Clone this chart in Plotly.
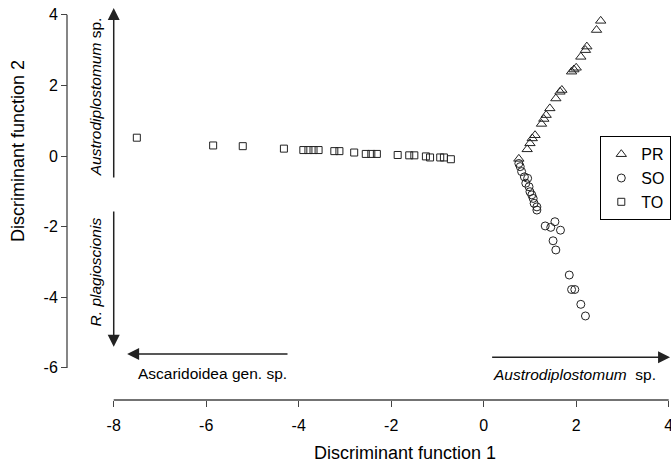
import plotly.graph_objects as go

# ---- data ----
pr_x = [2.53, 2.44, 2.23, 2.20, 2.10, 2.00, 1.95, 1.90, 1.69, 1.65, 1.56, 1.43, 1.35, 1.30, 1.25, 1.11, 1.05, 1.00, 0.94, 0.76]
pr_y = [3.83, 3.57, 3.10, 3.00, 2.81, 2.50, 2.45, 2.39, 1.87, 1.82, 1.63, 1.35, 1.16, 1.05, 0.91, 0.59, 0.50, 0.36, 0.19, -0.08]

so_x = [0.76, 0.79, 0.82, 0.88, 0.95, 0.91, 0.98, 1.00, 1.04, 1.07, 1.09, 1.15, 1.15, 1.33, 1.45, 1.54, 1.66, 1.50, 1.56, 1.85, 1.90, 1.97, 2.10, 2.20]
so_y = [-0.21, -0.30, -0.44, -0.59, -0.63, -0.77, -0.87, -1.01, -1.10, -1.20, -1.34, -1.44, -1.53, -1.98, -2.02, -1.86, -2.10, -2.40, -2.66, -3.37, -3.78, -3.78, -4.20, -4.53]

to_x = [-7.50, -5.85, -5.21, -4.32, -3.90, -3.79, -3.68, -3.57, -3.23, -3.12, -2.80, -2.55, -2.43, -2.31, -1.86, -1.61, -1.50, -1.25, -1.16, -0.94, -0.86, -0.71]
to_y = [0.52, 0.30, 0.28, 0.21, 0.17, 0.17, 0.17, 0.17, 0.14, 0.14, 0.10, 0.06, 0.06, 0.06, 0.03, 0.02, 0.02, -0.01, -0.04, -0.04, -0.04, -0.09]

x_ticks = [-8, -6, -4, -2, 0, 2, 4]
x_tick_labels = ["-8", "-6", "-4", "-2", "0", "2", "4"]
y_ticks = [-6, -4, -2, 0, 2, 4]
y_tick_labels = ["-6", "-4", "-2", "0", "2", "4"]

FONT = "Liberation Sans, Arial, Helvetica, sans-serif"
INK = "#222222"

fig = go.Figure()
fig.add_trace(go.Scatter(x=pr_x, y=pr_y, mode="markers", name="PR",
                         marker=dict(symbol="triangle-up-open", size=9, color=INK, line=dict(width=1))))
fig.add_trace(go.Scatter(x=so_x, y=so_y, mode="markers", name="SO",
                         marker=dict(symbol="circle-open", size=8, color=INK, line=dict(width=1))))
fig.add_trace(go.Scatter(x=to_x, y=to_y, mode="markers", name="TO",
                         marker=dict(symbol="square-open", size=7, color=INK, line=dict(width=1))))

axis_common = dict(showgrid=False, zeroline=False, showline=False, ticks="outside", ticklen=6,
                   tickwidth=1.3, tickcolor="#444444", tickfont=dict(family=FONT, size=16, color="black"),
                   automargin=False, ticklabeloverflow="allow")

fig.update_layout(
    width=671, height=465,
    margin=dict(l=67, r=0, t=0, b=65, autoexpand=False),
    plot_bgcolor="white", paper_bgcolor="white",
    font=dict(family=FONT, color="black"),
    xaxis=dict(domain=[0.0406, 1], range=[-8.48, 4.05], tickvals=x_ticks, ticktext=x_tick_labels,
               anchor="free", position=0, ticklabelstandoff=5, **axis_common),
    yaxis=dict(domain=[0.045, 1], range=[-6.4, 4.42], tickvals=y_ticks, ticktext=y_tick_labels,
               anchor="free", position=0, **axis_common),
    legend=dict(x=1, xanchor="right", y=0.66, yanchor="top", bordercolor="black", borderwidth=1.3,
                font=dict(family=FONT, size=16, color="black"), itemwidth=30, bgcolor="white",
                tracegroupgap=0),
    showlegend=True,
)

# detached R-style axis lines spanning first to last tick
fig.add_shape(type="line", xref="paper", x0=0, x1=0, yref="y", y0=y_ticks[0], y1=y_ticks[-1],
              line=dict(color="#444444", width=1.3))
fig.add_shape(type="line", xref="x", x0=x_ticks[0], x1=x_ticks[-1], yref="paper", y0=0, y1=0,
              line=dict(color="#444444", width=1.3))

# axis titles
fig.add_annotation(text="Discriminant function 1", xref="paper", yref="paper", x=0.5596, y=-0.1325,
                   xanchor="center", yanchor="middle",
                   showarrow=False, font=dict(family=FONT, size=18, color="black"))
fig.add_annotation(text="Discriminant function 2", xref="paper", yref="paper", x=-0.0811, y=0.6225,
                   xanchor="center", yanchor="middle",
                   textangle=-90, showarrow=False, font=dict(family=FONT, size=18, color="black"))

# arrows
arrow_style = dict(showarrow=True, arrowhead=2, arrowsize=1.6, arrowwidth=1.5, arrowcolor=INK,
                   axref="x", ayref="y", xref="x", yref="y", text="")
fig.add_annotation(x=-8, y=4.19, ax=-8, ay=-0.65, **arrow_style)
fig.add_annotation(x=-8, y=-5.4, ax=-8, ay=-1.53, **arrow_style)
fig.add_annotation(x=-7.71, y=-5.61, ax=-4.21, ay=-5.61, **arrow_style)
fig.add_annotation(x=4.03, y=-5.70, ax=0.15, ay=-5.70, **arrow_style)

lab_font = dict(family=FONT, size=15.5, color="black")
fig.add_annotation(text="<i>Austrodiplostomum</i> sp.", x=-8.40, y=1.67, xref="x", yref="y",
                   textangle=-90, showarrow=False, font=lab_font)
fig.add_annotation(text="<i>R. plagioscionis</i>", x=-8.40, y=-3.29, xref="x", yref="y",
                   textangle=-90, showarrow=False, font=lab_font)
fig.add_annotation(text="Ascaridoidea gen. sp.", x=-5.87, y=-6.15, xref="x", yref="y",
                   showarrow=False, font=lab_font)
fig.add_annotation(text="<i>Austrodiplostomum</i>\u00a0 sp.", x=1.97, y=-6.18, xref="x", yref="y",
                   showarrow=False, font=lab_font)

fig.write_html("out.html", config={"displayModeBar": False},
               post_script="document.body.style.margin='0';")
